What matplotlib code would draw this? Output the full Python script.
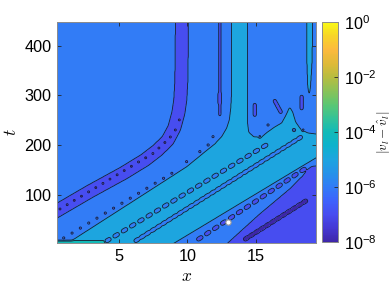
import numpy as np
import matplotlib
matplotlib.use("Agg")
import matplotlib.pyplot as plt
from matplotlib.colors import LinearSegmentedColormap, LogNorm
from matplotlib.cm import ScalarMappable
from matplotlib.path import Path

plt.rcParams["font.family"] = ["Liberation Sans", "DejaVu Sans"]
plt.rcParams["mathtext.fontset"] = "custom"
plt.rcParams["mathtext.rm"] = "Liberation Sans"
plt.rcParams["mathtext.it"] = "Liberation Sans:italic"

# ---------------- data ----------------
x_lim = (0.47, 19.40)
t_lim = (3.0, 448.0)
x_ticks = [5, 10, 15]
t_ticks = [100, 200, 300, 400]
cbar_exponents = [0, -2, -4, -6, -8]
levels = [-8, -7, -6, -5, -4, -3, -2, -1, 0]      # log10 |v_l - v^_l|

background_level = -5.5                            # between 1e-6 and 1e-5

# purple band (1e-7..1e-6) bending to vertical
band1_x = [-0.43, 0.47, 2.86, 5.33, 6.89, 7.84, 8.57, 9.04, 9.34, 9.48, 9.56, 9.61]
band1_t = [54.8, 68.9, 107.1, 144.2, 170.4, 190.4, 210.5, 234.6, 264.8, 290.9, 331.1, 471.7]
band1_level = -6.5

# thin vertical purple line
thin_x = [12.37, 12.37]
thin_t = [261.0, 471.7]
thin_level = -6.6

# light-blue region (1e-5..1e-4)
light_x = [0.45, 1.40, 5.79, 9.96, 11.27, 12.01, 12.52, 12.88, 13.07, 13.18, 13.23, 13.23,
           14.40, 14.40, 14.49, 14.86, 15.44, 15.88, 16.40, 16.91, 17.27, 17.49, 17.71,
           17.93, 18.29, 18.81, 19.40, 20.06, 20.06, 19.40, 18.22, 14.56, 10.91, 9.20, 8.19]
light_t = [-10.5, 6.2, 83.4, 156.9, 186.4, 202.5, 217.6, 234.6, 250.7, 274.8, 300.9, 471.7,
           471.7, 246.7, 226.6, 216.6, 216.6, 226.6, 236.6, 244.7, 262.8, 276.8, 266.8,
           246.7, 232.6, 224.6, 222.6, 222.6, 185.2, 174.2, 154.9, 94.6, 34.3, 6.2, -10.5]
light_level = -4.5

# thin light tongue near the right edge
tongue_x = [18.75, 19.18, 19.14, 19.03, 18.92, 18.81, 18.75]
tongue_t = [471.7, 471.7, 371.5, 321.3, 295.2, 321.3, 371.5]

# purple wedge at lower right
wedge_x = [12.52, 12.98, 15.30, 17.49, 18.44, 18.81, 19.10, 20.06, 20.06]
wedge_t = [-10.5, 4.2, 61.9, 112.1, 138.2, 151.3, 157.3, 160.3, -10.5]
wedge_level = -6.5

# thin strip at the bottom-left (higher error)
strip_x = [-0.5, 3.97, 3.97, -0.5]
strip_t = [-10.0, -10.0, 8.5, 8.5]
strip_level = -3.3

# chains of small closed contours: (x0, t0, x1, t1, count, level, kind)
chains = [
    (0.67, 71.9, 7.47, 183.4, 14, -7.5, "dot"),      # dots inside purple band
    (0.94, 13.6, 8.86, 143.6, 14, -6.6, "dot"),      # dots below purple band
    (4.18, 9.2, 15.66, 198.5, 20, -5.5, "oval"),     # ovals inside light region
    (6.30, 9.6, 18.22, 214.5, 31, -5.5, "wavy"),     # wavy band inside light region
    (10.91, 13.0, 18.47, 150.3, 14, -6.5, "oval"),   # purple ovals (white marker row)
    (14.33, 13.0, 18.59, 86.6, 12, -7.5, "blob"),    # dark ovals inside wedge
]
# single small dots (x, t, level)
dots_x = [7.91, 8.35, 8.75, 9.12, 9.41, 9.94, 10.91, 11.52, 11.88, 15.91, 17.81, 18.47, 15.30]
dots_t = [194.5, 205.5, 216.6, 230.6, 250.7, 166.9, 187.0, 200.5, 217.2, 240.7, 230.6, 230.6, 217.2]
dots_level = [-7.5, -7.5, -7.5, -7.5, -7.5, -6.6, -6.6, -6.6, -6.6, -6.6, -6.6, -6.6, -6.6]
# short dark dashes (x0, t0, x1, t1, level)
dashes = [
    (12.37, 285.0, 12.37, 303.0, -6.8),
    (14.93, 260.9, 14.93, 281.0, -6.6),
    (18.37, 274.2, 18.37, 297.5, -6.6),
    (16.40, 288.9, 16.84, 266.8, -6.6),
]
marker_x = [12.94]
marker_t = [46.4]

# ---------------- figure geometry ----------------
W, H = 390, 293
fig = plt.figure(figsize=(W / 100, H / 100), dpi=100)
ax = fig.add_axes([57.3 / W, 1 - 243.3 / H, (315.7 - 57.3) / W, (243.3 - 21.7) / H])
cax = fig.add_axes([322.3 / W, 1 - 242.3 / H, 16.0 / W, (242.3 - 21.7) / H])

bb = ax.get_window_extent()
sx = bb.width / (x_lim[1] - x_lim[0])     # pixels per x unit
st = bb.height / (t_lim[1] - t_lim[0])    # pixels per t unit

# ---------------- parula-like colormap ----------------
parula_pts = [
    (0.000, (0.2422, 0.1504, 0.6603)), (0.063, (0.2700, 0.2200, 0.8300)),
    (0.125, (0.2780, 0.3000, 0.9400)), (0.190, (0.2400, 0.3900, 0.9900)),
    (0.250, (0.1950, 0.4850, 0.9650)), (0.310, (0.1500, 0.5700, 0.9150)),
    (0.375, (0.1150, 0.6450, 0.8750)), (0.440, (0.0500, 0.7000, 0.8000)),
    (0.500, (0.0700, 0.7300, 0.7200)), (0.560, (0.2000, 0.7600, 0.6000)),
    (0.625, (0.3600, 0.7800, 0.4500)), (0.690, (0.5500, 0.7600, 0.3400)),
    (0.750, (0.7200, 0.7400, 0.2500)), (0.810, (0.8700, 0.7300, 0.2200)),
    (0.875, (0.9900, 0.7300, 0.2400)), (0.940, (0.9700, 0.8400, 0.1500)),
    (1.000, (0.9769, 0.9839, 0.0805)),
]
parula = LinearSegmentedColormap.from_list("parula", parula_pts, N=256)

# ---------------- build the field ----------------
nx, nt = 760, 640
xg = np.linspace(x_lim[0] - 0.4, x_lim[1] + 0.4, nx)
tg = np.linspace(t_lim[0] - 12, t_lim[1] + 12, nt)
X, T = np.meshgrid(xg, tg)
PX, PT = X * sx, T * st
F = np.full(X.shape, background_level)


def seg_dist(xs, ts):
    xs = np.asarray(xs) * sx
    ts = np.asarray(ts) * st
    if len(xs) == 1:
        return np.hypot(PX - xs[0], PT - ts[0])
    d = np.full(X.shape, np.inf)
    for i in range(len(xs) - 1):
        ax_, at_, bx_, bt_ = xs[i], ts[i], xs[i + 1], ts[i + 1]
        vx, vt = bx_ - ax_, bt_ - at_
        L2 = vx * vx + vt * vt
        u = np.clip(((PX - ax_) * vx + (PT - at_) * vt) / L2, 0, 1)
        d = np.minimum(d, np.hypot(PX - ax_ - u * vx, PT - at_ - u * vt))
    return d


def poly_mask(xs, ts):
    p = Path(np.column_stack([xs, ts]))
    return p.contains_points(np.column_stack([X.ravel(), T.ravel()])).reshape(X.shape)


F[poly_mask(light_x, light_t)] = light_level
F[poly_mask(tongue_x, tongue_t)] = light_level
F[poly_mask(wedge_x, wedge_t)] = wedge_level
F[seg_dist(band1_x, band1_t) < 6.5] = band1_level
F[seg_dist(thin_x, thin_t) < 1.1] = thin_level
F[poly_mask(strip_x, strip_t)] = strip_level

# chain shapes: (half length along chain, half width) in pixels
shape_px = {"dot": (0.0, 1.3), "oval": (1.6, 2.0), "wavy": (1.3, 2.0), "blob": (1.3, 2.1)}
for (x0, t0, x1, t1, n, lev, kind) in chains:
    dx, dt = (x1 - x0) / (n - 1), (t1 - t0) / (n - 1)
    step = np.hypot(dx * sx, dt * st)
    ex, et = dx / step, dt / step          # data units per pixel along the chain
    half_len, hw = shape_px[kind]
    for k in range(n):
        cx, ct = x0 + k * dx, t0 + k * dt
        if half_len == 0:
            d = seg_dist([cx], [ct])
        else:
            d = seg_dist([cx - ex * half_len, cx + ex * half_len],
                         [ct - et * half_len, ct + et * half_len])
        F[d < hw] = lev

for xx, tt, lev in zip(dots_x, dots_t, dots_level):
    F[seg_dist([xx], [tt]) < 1.3] = lev
for (x0, t0, x1, t1, lev) in dashes:
    F[seg_dist([x0, x1], [t0, t1]) < 1.6] = lev

# light gaussian smoothing (about 0.8 px)
sig_x = 0.8 / (sx * (xg[1] - xg[0]))
sig_t = 0.8 / (st * (tg[1] - tg[0]))


def blur1d(A, sig, axis):
    r = int(np.ceil(3 * sig))
    k = np.exp(-0.5 * (np.arange(-r, r + 1) / sig) ** 2)
    k /= k.sum()
    pad = [(0, 0), (0, 0)]
    pad[axis] = (r, r)
    Ap = np.pad(A, pad, mode="edge")
    return np.apply_along_axis(lambda v: np.convolve(v, k, mode="valid"), axis, Ap)


F = blur1d(blur1d(F, sig_x, 1), sig_t, 0)

# ---------------- draw ----------------
fill_colors = [parula((lv - levels[0]) / (levels[-1] - levels[0])) for lv in levels[:-1]]
ax.contourf(X, T, F, levels=levels, colors=fill_colors)
ax.contour(X, T, F, levels=levels, colors="#1a1a33", linewidths=0.6, linestyles="solid")
ax.scatter(marker_x, marker_t, s=14, facecolor="white", edgecolor="#9a9a9a", linewidths=0.8, zorder=5)

ax.set_xlim(*x_lim)
ax.set_ylim(*t_lim)
ax.set_xticks(x_ticks)
ax.set_yticks(t_ticks)
ax.tick_params(direction="in", length=3, width=0.6, color="#262626", labelsize=11.7,
               top=True, right=True, pad=4)
for s in ax.spines.values():
    s.set_color("#8c8c8c")
    s.set_linewidth(0.7)
ax.set_xlabel("$x$", fontsize=12.5, math_fontfamily="cm", labelpad=4)
ax.set_ylabel("$t$", fontsize=12.5, math_fontfamily="cm", labelpad=4)

sm = ScalarMappable(norm=LogNorm(1e-8, 1), cmap=parula)
cb = fig.colorbar(sm, cax=cax)
cb.set_ticks([10.0 ** e for e in cbar_exponents])
cb.set_ticklabels([r"$10^{%d}$" % e for e in cbar_exponents])
cb.ax.minorticks_off()
cb.ax.tick_params(direction="in", length=3, width=0.6, color="#262626", labelsize=11.7, pad=4)
cb.outline.set_edgecolor("#8c8c8c")
cb.outline.set_linewidth(0.7)
cb.set_label(r"$|v_l-\hat{v}_l|$", fontsize=9.5, math_fontfamily="cm")
cb.ax.yaxis.set_label_coords((375.5 - 322.3) / 16.0, 0.5)

fig.savefig("out.png", dpi=100)
